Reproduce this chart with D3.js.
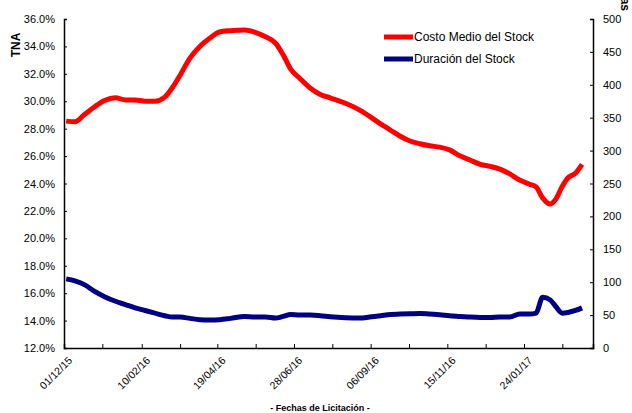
<!DOCTYPE html>
<html>
<head>
<meta charset="utf-8">
<script src="https://cdn.jsdelivr.net/npm/d3@7"></script>
<style>
  body { margin: 0; background: #fff; }
  text { font-family: "Liberation Sans", Arial, sans-serif; fill: #000; }
</style>
</head>
<body>
<svg id="chart" width="632" height="413"></svg>
<script>
// fechas de licitacion (lectura aproximada del grafico)
var fechas = [
  "2015-12-03","2015-12-11","2015-12-20","2015-12-29","2016-01-07","2016-01-17","2016-01-26","2016-02-04",
  "2016-02-13","2016-02-22","2016-03-02","2016-03-09","2016-03-16","2016-03-25","2016-04-03","2016-04-12",
  "2016-04-21","2016-05-01","2016-05-14","2016-05-23","2016-06-02","2016-06-11","2016-06-18","2016-06-25",
  "2016-07-03","2016-07-13","2016-07-22","2016-07-31","2016-08-14","2016-08-27","2016-09-05","2016-09-15",
  "2016-09-24","2016-10-03","2016-10-12","2016-10-21","2016-10-30","2016-11-08","2016-11-17","2016-11-27",
  "2016-12-06","2016-12-15","2016-12-24","2017-01-02","2017-01-11","2017-01-20","2017-01-29","2017-02-04",
  "2017-02-10","2017-02-17","2017-02-22","2017-02-28","2017-03-05","2017-03-12","2017-03-18"
];

// Costo Medio del Stock (TNA, %)
var costoMedio = [
  28.55, 28.5, 29.05, 29.6, 30.05, 30.25, 30.1, 30.1,
  30.0, 30.0, 30.3, 31.0, 31.9, 33.15, 34.0, 34.6,
  35.05, 35.15, 35.2, 35.05, 34.7, 34.25, 33.4, 32.35,
  31.7, 30.95, 30.5, 30.25, 29.85, 29.35, 28.9, 28.35,
  27.9, 27.45, 27.1, 26.9, 26.75, 26.65, 26.45, 26.0,
  25.7, 25.4, 25.25, 25.05, 24.7, 24.25, 23.95, 23.75,
  22.95, 22.5, 22.85, 23.8, 24.4, 24.75, 25.4
];

// Duracion del Stock (dias)
var duracion = [
  105, 102, 96, 86, 78, 71, 66, 61,
  57, 53, 49, 47, 47, 45, 43, 42.5,
  43, 45, 48, 47, 47, 45.5, 48, 51,
  50, 50, 49, 47.5, 46, 45.5, 47, 49,
  51, 51.5, 52, 52.5, 51.5, 50.5, 49, 48,
  47, 46.5, 46.5, 47, 47, 51.5, 51.5, 53,
  77, 73, 63, 53, 54, 57, 61
];

var tnaTicks = [12, 14, 16, 18, 20, 22, 24, 26, 28, 30, 32, 34, 36];
var diasTicks = [0, 50, 100, 150, 200, 250, 300, 350, 400, 450, 500];
var fechaTicks = ["2015-12-01","2016-02-10","2016-04-19","2016-06-28","2016-09-06","2016-11-15","2017-01-24"];

var parse = d3.timeParse("%Y-%m-%d"),
    fmt = d3.timeFormat("%d/%m/%y");

var svg = d3.select("#chart"),
    margin = {left: 64, right: 593, top: 19, bottom: 348};

var x = d3.scaleTime()
    .domain([parse("2015-12-01"), parse("2017-03-28")])
    .range([margin.left, margin.right]);
var yL = d3.scaleLinear().domain([12, 36]).range([margin.bottom, margin.top]);
var yR = d3.scaleLinear().domain([0, 500]).range([margin.bottom, margin.top]);

var data = fechas.map(function(f, i) {
  return {fecha: parse(f), costo: costoMedio[i], dur: duracion[i]};
});

// minor ticks between labeled dates
var major = fechaTicks.map(parse);
var allTicks = [];
major.forEach(function(d) {
  allTicks.push(d);
  allTicks.push(d3.timeDay.offset(d, 35));
});

var xAxis = svg.append("g")
  .attr("transform", "translate(0," + margin.bottom + ")")
  .call(d3.axisBottom(x).tickValues(allTicks).tickSize(-4).tickFormat(""));
xAxis.select(".domain").attr("stroke-width", 1.5);

svg.append("g").selectAll("text")
  .data(major)
  .enter().append("text")
  .attr("transform", function(d) { return "translate(" + (x(d) + 9) + "," + (margin.bottom + 13) + ") rotate(-45)"; })
  .attr("text-anchor", "end")
  .attr("font-size", 10.5)
  .text(function(d) { return fmt(d); });

var leftAxis = svg.append("g")
  .attr("transform", "translate(" + margin.left + ",0)")
  .call(d3.axisLeft(yL).tickValues(tnaTicks).tickSize(-3).tickPadding(9)
    .tickFormat(function(d) { return d.toFixed(1) + "%"; }));
leftAxis.select(".domain").attr("stroke-width", 1.5);

var rightAxis = svg.append("g")
  .attr("transform", "translate(" + margin.right + ",0)")
  .call(d3.axisRight(yR).tickValues(diasTicks).tickSize(-3).tickPadding(10));
rightAxis.select(".domain").attr("stroke-width", 1.5);

svg.selectAll(".tick text").attr("font-size", 11).attr("font-family", "Liberation Sans, Arial, sans-serif").attr("fill", "#222");

var lineCosto = d3.line()
  .x(function(d) { return x(d.fecha); })
  .y(function(d) { return yL(d.costo); })
  .curve(d3.curveMonotoneX);
var lineDur = d3.line()
  .x(function(d) { return x(d.fecha); })
  .y(function(d) { return yR(d.dur); })
  .curve(d3.curveMonotoneX);

svg.append("path").datum(data)
  .attr("d", lineCosto).attr("fill", "none")
  .attr("stroke", "#ff0000").attr("stroke-width", 5).attr("stroke-linejoin", "round");
svg.append("path").datum(data)
  .attr("d", lineDur).attr("fill", "none")
  .attr("stroke", "#000080").attr("stroke-width", 5).attr("stroke-linejoin", "round");

// axis titles
svg.append("text")
  .attr("transform", "translate(20,45) rotate(-90)")
  .attr("text-anchor", "middle")
  .attr("font-size", 12).attr("font-weight", "bold")
  .text("TNA");
svg.append("text")
  .attr("transform", "translate(621,11) rotate(90)")
  .attr("text-anchor", "end")
  .attr("font-size", 12).attr("font-weight", "bold")
  .text("días");
svg.append("text")
  .attr("x", 320).attr("y", 411)
  .attr("text-anchor", "middle")
  .attr("font-size", 9).attr("font-weight", "bold")
  .text("- Fechas de Licitación -");

// legend
var legend = [
  {name: "Costo Medio del Stock", color: "#ff0000"},
  {name: "Duración del Stock", color: "#000080"}
];
var lg = svg.append("g").selectAll("g")
  .data(legend).enter().append("g")
  .attr("transform", function(d, i) { return "translate(384," + (37 + i * 22) + ")"; });
lg.append("line").attr("x1", 0).attr("x2", 29)
  .attr("stroke", function(d) { return d.color; }).attr("stroke-width", 5);
lg.append("text").attr("x", 30).attr("y", 4)
  .attr("font-size", 12)
  .text(function(d) { return d.name; });
</script>
</body>
</html>
